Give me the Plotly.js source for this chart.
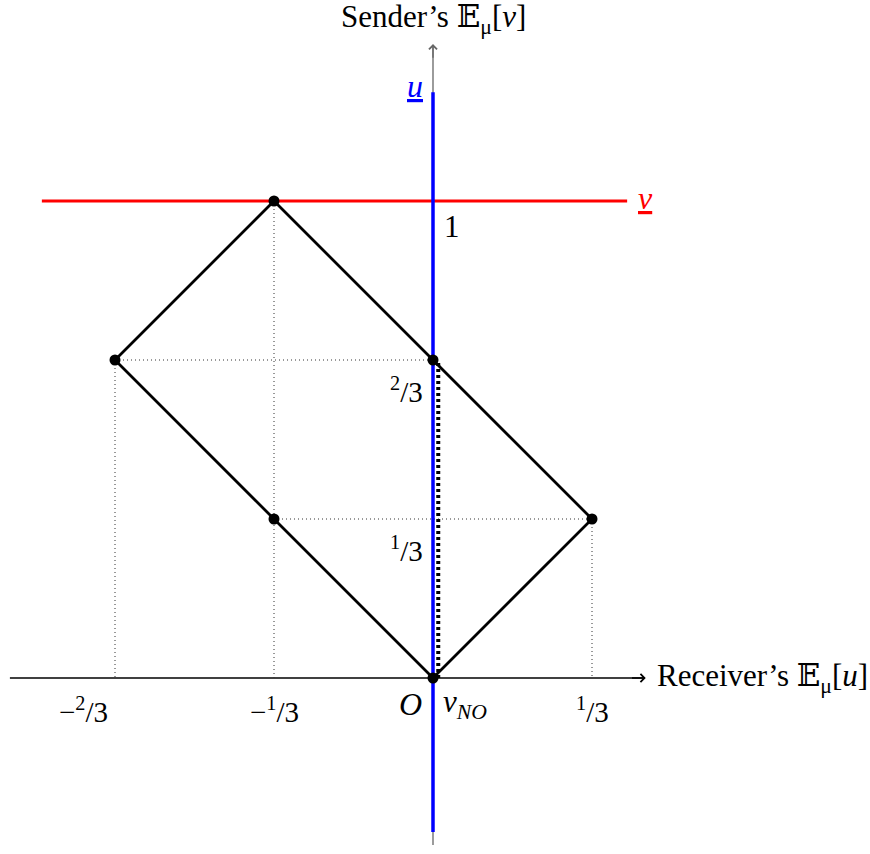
<!DOCTYPE html>
<html>
<head>
<meta charset="utf-8">
<script src="https://cdn.plot.ly/plotly-3.0.1.min.js"></script>
<style>
  html, body { margin: 0; padding: 0; background: #fff; }
  #chart { width: 870px; height: 854px; }
</style>
</head>
<body>
<div id="chart"></div>
<script>
// vertices of the rectangle (closed)
const rectX = [0, 1/3, -1/3, -2/3, 0];
const rectY = [0, 1/3, 1, 2/3, 0];

// marked points
const ptsX = [0, 1/3, -1/3, -2/3, -1/3, 0];
const ptsY = [0, 1/3, 1, 2/3, 1/3, 2/3];

// dotted guides: [x0, y0, x1, y1]
const guides = [
  [-2/3, 2/3, -2/3, 0],
  [-1/3, 1, -1/3, 0],
  [1/3, 1/3, 1/3, 0],
  [-1/3, 1, 0, 1],
  [-2/3, 2/3, 0, 2/3],
  [-1/3, 1/3, 1/3, 1/3]
];

// v_NO segment
const vnoY = [0, 2/3];
const vnoShift = 0.011;

// red line (v) and blue line (u)
const redX = [-0.82, 0.407];
const redY = 1;
const blueY = [-0.323, 1.228];

// axes extents
const xAxisExt = [-0.887, 0.444];
const yAxisExt = [-0.35, 1.327];

const xTickVals = [-2/3, -1/3, 1/3];
const xTickText = ["\u2212<sup>2</sup>/3", "\u2212<sup>1</sup>/3", "<sup>1</sup>/3"];
const yTickVals = [1/3, 2/3];
const yTickText = ["<sup>1</sup>/3", "<sup>2</sup>/3"];

const font = "Liberation Serif, DejaVu Serif, serif";

const gx = [], gy = [];
guides.forEach(g => { gx.push(g[0], g[2], null); gy.push(g[1], g[3], null); });

const traces = [
  // x axis
  { x: xAxisExt, y: [0, 0], mode: "lines", line: { color: "#000", width: 1.3 }, hoverinfo: "skip" },
  // y axis
  { x: [0, 0], y: yAxisExt, mode: "lines", line: { color: "#666", width: 1.3 }, hoverinfo: "skip" },
  // guides
  { x: gx, y: gy, mode: "lines", line: { color: "#333", width: 1, dash: "1px,3px" }, hoverinfo: "skip" },
  // red line
  { x: redX, y: [redY, redY], mode: "lines", line: { color: "#ff0000", width: 3 }, hoverinfo: "skip" },
  // rectangle
  { x: rectX, y: rectY, mode: "lines", line: { color: "#000", width: 2.8 }, hoverinfo: "skip" },
  // v_NO dotted
  { x: [vnoShift, vnoShift], y: vnoY, mode: "lines", line: { color: "#000", width: 4, dash: "3px,3px" }, hoverinfo: "skip" },
  // blue line
  { x: [0, 0], y: blueY, mode: "lines", line: { color: "#0000ff", width: 3.5 }, hoverinfo: "skip" },
  // points
  { x: ptsX, y: ptsY, mode: "markers", marker: { color: "#000", size: 11 }, hoverinfo: "skip" }
];

const annotations = [];
// arrowheads
annotations.push({ x: xAxisExt[1] + 0.002, y: 0, ax: xAxisExt[1] - 0.03, ay: 0, xref: "x", yref: "y", axref: "x", ayref: "y",
  showarrow: true, arrowhead: 4, arrowsize: 1.2, arrowwidth: 1.3, arrowcolor: "#000", text: "" });
annotations.push({ x: 0, y: yAxisExt[1] + 0.002, ax: 0, ay: yAxisExt[1] - 0.03, xref: "x", yref: "y", axref: "x", ayref: "y",
  showarrow: true, arrowhead: 4, arrowsize: 1.2, arrowwidth: 1.3, arrowcolor: "#666", text: "" });

xTickVals.forEach((v, i) => annotations.push({ x: v, y: 0, text: xTickText[i], showarrow: false,
  yanchor: "top", yshift: -12, xshift: i === 0 ? -32 : 0, font: { family: font, size: 29, color: "#000" } }));
yTickVals.forEach((v, i) => annotations.push({ x: 0, y: v, text: yTickText[i], showarrow: false,
  xanchor: "right", yanchor: "top", xshift: -8, yshift: -10, font: { family: font, size: 29, color: "#000" } }));
annotations.push({ x: 0, y: 1, text: "1", showarrow: false, xanchor: "left", yanchor: "top", xshift: 9, yshift: -6,
  font: { family: font, size: 31, color: "#000" } });
annotations.push({ x: 0, y: 0, text: "<i>O</i>", showarrow: false, xanchor: "right", yanchor: "top", xshift: -9, yshift: -6,
  font: { family: font, size: 32, color: "#000" } });
annotations.push({ x: 0, y: 0, text: "<i>v</i><sub><i>NO</i></sub>", showarrow: false, xanchor: "left", yanchor: "top", xshift: 8, yshift: -4,
  font: { family: font, size: 31, color: "#000" } });
annotations.push({ x: 0, y: blueY[1], text: "<u><i>u</i></u>", showarrow: false, xanchor: "right", yanchor: "middle", xshift: -8, yshift: 6,
  font: { family: font, size: 32, color: "#0000ff" } });
annotations.push({ x: redX[1], y: redY, text: "<u><i>v</i></u>", showarrow: false, xanchor: "left", yanchor: "middle", xshift: 9, yshift: 3,
  font: { family: font, size: 32, color: "#ff0000" } });
annotations.push({ x: 0, y: yAxisExt[1], text: "Sender\u2019s \ud835\udd3c<sub>\u03bc</sub>[<i>v</i>]", showarrow: false, yanchor: "bottom", yshift: 4,
  font: { family: font, size: 31, color: "#000" } });
annotations.push({ x: xAxisExt[1], y: 0, text: "Receiver\u2019s \ud835\udd3c<sub>\u03bc</sub>[<i>u</i>]", showarrow: false, xanchor: "left", yanchor: "middle", xshift: 10,
  font: { family: font, size: 31, color: "#000" } });

const layout = {
  width: 870, height: 854,
  margin: { l: 0, r: 0, t: 0, b: 0 },
  paper_bgcolor: "#fff", plot_bgcolor: "#fff",
  showlegend: false,
  xaxis: { range: [-433/477, 437/477], visible: false, fixedrange: true },
  yaxis: { range: [-176/477, 678/477], visible: false, fixedrange: true },
  annotations: annotations
};

Plotly.newPlot("chart", traces, layout, { displayModeBar: false, staticPlot: true });
</script>
</body>
</html>
